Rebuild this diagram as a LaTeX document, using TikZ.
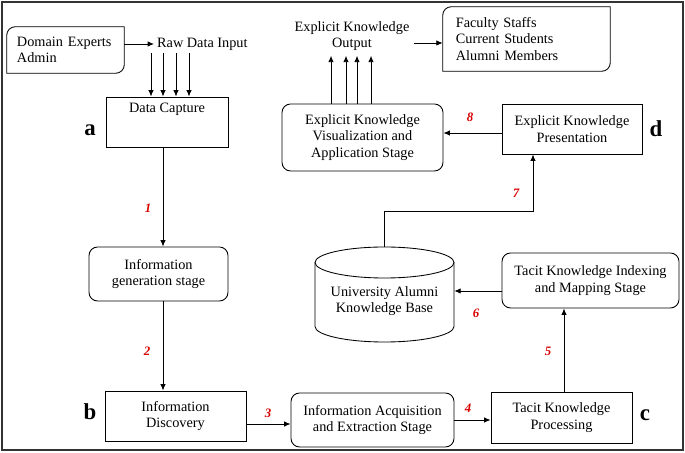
\documentclass[tikz,border=0pt]{standalone}
\usepackage{fontspec}
\setmainfont{Liberation Serif}
\usetikzlibrary{arrows.meta}

\tikzset{
	box/.style={draw, line width=0.6pt, align=center, inner sep=3.5pt},
	rbox/.style={box, rounded corners=6pt},
	arr/.style={-{Latex[length=4.5pt,width=3.8pt]}, line width=0.6pt},
	num/.style={text=red!85!black, font=\fontsize{9}{10}\selectfont\bfseries\itshape},
	tag/.style={font=\fontsize{16}{17}\selectfont\bfseries},
}
% box with two rounded corners (top left, bottom right)
\newcommand{\diagbox}[1]{\draw[line width=0.6pt] (#1.north east) -- ([xshift=6pt]#1.north west)
	arc[start angle=90,end angle=180,radius=6pt] -- (#1.south west) -- ([xshift=-6pt]#1.south east)
	arc[start angle=270,end angle=360,radius=6pt] -- cycle;}

\begin{document}
\begin{tikzpicture}[x=0.7pt, y=-0.7pt, font=\fontsize{10}{11.5}\selectfont]
		\useasboundingbox (0,0) rectangle (685,453);
		\draw[line width=0.9pt, black!80] (2,2) rectangle (683,450);
		% nodes
		\node (dom) [minimum width=81.9pt, minimum height=32.2pt, text width=67.9pt, inner xsep=7pt, align=left] at (65.5,50) {Domain Experts\\Admin};
		\diagbox{dom}
		\node (raw) [anchor=west, inner sep=2pt] at (154,44) {Raw Data Input};
		\node (cap) [box, minimum width=85.4pt, minimum height=35pt, text height=7.5pt, text depth=20.5pt] at (167,122) {Data Capture};
		\node (gen) [rbox, minimum width=97.3pt, minimum height=37.8pt] at (158.5,274) {Information\\generation stage};
		\node (disc) [box, minimum width=98.7pt, minimum height=35pt] at (175.5,416) {Information\\Discovery};
		\node (acq) [rbox, minimum width=114.1pt, minimum height=37.8pt] at (372.5,420) {Information Acquisition\\and Extraction Stage};
		\node (tkp) [box, minimum width=98.7pt, minimum height=35.7pt] at (561.5,417.5) {Tacit Knowledge\\Processing};
		\node (idx) [rbox, minimum width=123.9pt, minimum height=38.5pt] at (590.5,280.5) {Tacit Knowledge Indexing\\and Mapping Stage};
		\node (kb) [minimum width=97.3pt, minimum height=66.5pt, inner sep=0pt] at (384.5,294.5) {};
		\draw[line width=0.6pt] (384.5,262.5) ellipse [x radius=69.5, y radius=15.5];
		\draw[line width=0.6pt] (315,262.5) -- (315,326.5) arc[start angle=180, end angle=0, x radius=69.5, y radius=15.5] -- (454,262.5);
		\node (kbt) [align=center] at (384.5,301) {University Alumni\\Knowledge Base};
		\node (pres) [box, minimum width=98pt, minimum height=35pt] at (572,129) {Explicit Knowledge\\Presentation};
		\node (vis) [rbox, minimum width=112.7pt, minimum height=46.9pt] at (362.5,137.5) {Explicit Knowledge\\Visualization and\\Application Stage};
		\node (out) [align=center] at (352,36) {Explicit Knowledge\\Output};
		\node (fac) [minimum width=116.9pt, minimum height=44.8pt, text width=98.9pt, inner xsep=9pt, align=left] at (526.5,39) {Faculty Staffs\\Current Students\\Alumni Members};
		\diagbox{fac}
		% arrows
		\path[arr] (dom.east |- raw.west) edge (raw.west);
		\foreach \xx in {151,163,176,189}
		\draw[arr] (\xx,0 |- raw.south) -- (\xx,0 |- cap.north);
		\path[arr] (163,0 |- cap.south) edge (163,0 |- gen.north);
		\path[arr] (163,0 |- gen.south) edge (163,0 |- disc.north);
		\path[arr] (disc.east |- 0,424) edge (acq.west |- 0,424);
		\path[arr] (acq.east |- 0,420) edge (tkp.west |- 0,420);
		\path[arr] (564,0 |- tkp.north) edge (564,0 |- idx.south);
		\path[arr] (idx.west |- 0,291) edge (kb.east |- 0,291);
		\draw[arr] (kb.north) |- (533,211) -- (533,0 |- pres.south);
		\path[arr] (pres.west |- 0,133) edge (vis.east |- 0,133);
		\foreach \xx in {331,346,357,371}
		\draw[arr] (\xx,0 |- vis.north) -- (\xx,0 |- out.south);
		\path[arr] (out.east |- 0,43) edge (fac.west |- 0,43);
		% step numbers
		\node[num] (n1) at (148,208) {1};
		\node[num] (n2) at (147,351) {2};
		\node[num] (n3) at (268,413) {3};
		\node[num] (n4) at (468,408) {4};
		\node[num] (n5) at (548,351) {5};
		\node[num] (n6) at (476,313) {6};
		\node[num] (n7) at (516,193) {7};
		\node[num] (n8) at (470,117) {8};
		% stage letters
		\node[tag] (ta) at (90,130) {a};
		\node[tag] (tb) at (90,412) {b};
		\node[tag] (tc) at (645,415) {c};
		\node[tag] (td) at (656,129) {d};
\end{tikzpicture}
\end{document}
